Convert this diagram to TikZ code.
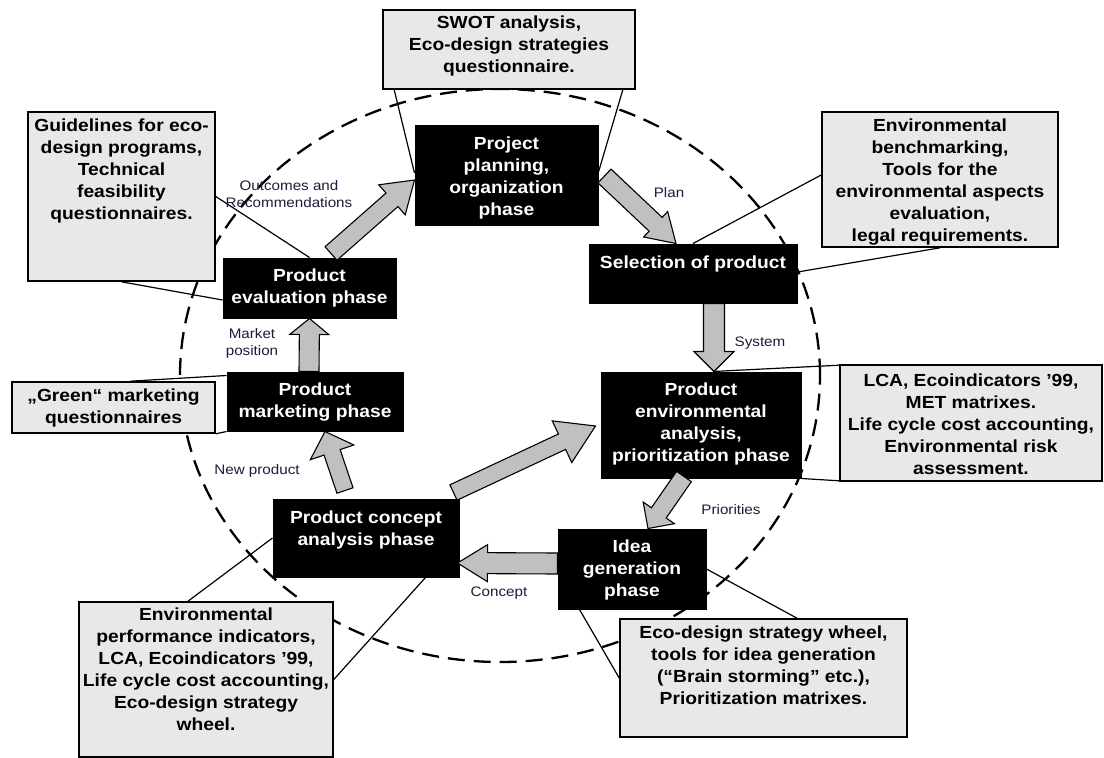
\documentclass[tikz,border=0pt]{standalone}
\usepackage{fontspec}
\setmainfont{Liberation Sans}[FakeStretch=1.1]
\usetikzlibrary{calc}
\definecolor{infofill}{HTML}{E8E8E8}
\definecolor{arrowfill}{HTML}{C0C0C0}
\definecolor{labelcol}{HTML}{1C1C3C}
\pgfdeclarelayer{bg}
\pgfsetlayers{bg,main}
\newcommand\bx[4]{\parbox[c][#2pt][t]{#1pt}{\centering\vspace*{#3pt}\makebox[0pt]{\begin{tabular}[t]{@{}c@{}}#4\end{tabular}}\par}}
\newcommand\barrow[5]{%
  \coordinate (hb) at ($(#2)!#5pt!(#1)$);
  \draw[blockarrow] ($(#1)!#3pt!90:(#2)$) -- ($(hb)!#3pt!90:(#2)$) -- ($(hb)!#4pt!90:(#2)$) -- (#2)
    -- ($(hb)!#4pt!-90:(#2)$) -- ($(hb)!#3pt!-90:(#2)$) -- ($(#1)!#3pt!-90:(#2)$) -- cycle;}
\tikzset{
  phase/.style={draw=black, fill=black, text=white, inner sep=0pt, line width=1pt, font=\bfseries\fontsize{17.5}{22}\selectfont},
  info/.style={draw=black, fill=infofill, inner sep=0pt, line width=1.6pt, font=\bfseries\fontsize{17.5}{22}\selectfont},
  lbl/.style={text=labelcol, inner sep=0pt, align=center, font=\fontsize{13.8}{17}\selectfont},
  link/.style={draw=black, line width=1.2pt},
  blockarrow/.style={draw=black, fill=arrowfill, line width=1.1pt, line join=miter},
  wheel/.style={draw=black, line width=2.3pt, dash pattern=on 17pt off 9pt},
}
\begin{document}
\begin{tikzpicture}[x=1pt,y=-1pt]
\useasboundingbox (0,0) rectangle (1104,758);

% phase boxes
\node[phase] (proj) at (506.5,175) {\bx{183}{100}{9}{Project\\planning,\\organization\\phase}};
\node[phase] (sel) at (693,273.5) {\bx{208}{59}{9}{Selection of product}};
\node[phase] (env) at (701,425) {\bx{200}{106}{8}{Product\\environmental\\analysis,\\prioritization phase}};
\node[phase] (idea) at (632,569) {\bx{148}{80}{8}{Idea\\generation\\phase}};
\node[phase] (concept) at (366,538) {\bx{186}{78}{9}{Product concept\\analysis phase}};
\node[phase] (mkt) at (315,401.5) {\bx{176}{59}{8}{Product\\marketing phase}};
\node[phase] (eval) at (309.5,288) {\bx{173}{60}{8}{Product\\evaluation phase}};

% tool boxes
\node[info] (swot) at (509,49.5) {\bx{252}{79}{3}{SWOT analysis,\\Eco-design strategies\\questionnaire.}};
\node[info] (guide) at (121.5,196.5) {\bx{187}{169}{4}{Guidelines for eco-\\design programs,\\Technical\\feasibility\\questionnaires.}};
\node[info] (bench) at (940,179.5) {\bx{236}{135}{4}{Environmental\\benchmarking,\\Tools for the\\environmental aspects\\evaluation,\\legal requirements.}};
\node[info] (lca) at (971,423) {\bx{262}{116}{6}{LCA, Ecoindicators ’99,\\MET matrixes.\\Life cycle cost accounting,\\Environmental risk\\assessment.}};
\node[info] (green) at (113.5,407.5) {\bx{203}{51}{4}{„Green“ marketing\\questionnaires}};
\node[info] (eco) at (763.5,678) {\bx{287}{118}{4}{Eco-design strategy wheel,\\tools for idea generation\\(“Brain storming” etc.),\\Prioritization matrixes.}};
\node[info] (perf) at (206,679.5) {\bx{254}{155}{3}{Environmental\\performance indicators,\\LCA, Ecoindicators ’99,\\Life cycle cost accounting,\\Eco-design strategy\\wheel.}};

\begin{pgfonlayer}{bg}
\fill[white] (0,0) rectangle (1104,758);
\draw[wheel] (500,375.5) ellipse [x radius=320pt, y radius=286.5pt];
\draw[link] ($(swot.south west)+(12,0)$) -- ($(proj.west)+(0,-2)$);
\draw[link] ($(swot.south east)+(-13,0)$) -- ($(proj.east)+(0,-3)$);
\draw[link] ($(bench.west)+(0,-4.5)$) -- (sel.north);
\draw[link] (bench.south) -- ($(sel.east)+(0,-1.5)$);
\draw[link] ($(env.north)+(12,0)$) -- ($(lca.north west)+(0,1)$);
\draw[link] (env.south east) -- ($(lca.south west)+(0,-1)$);
\draw[link] (guide.south) -- ($(eval.west)+(0,12)$);
\draw[link] (guide.east) -- (eval.north);
\draw[link] ($(green.north)+(16.5,0)$) -- ($(mkt.north west)+(0,4)$);
\draw[link] (green.south east) -- (mkt.south west);
\draw[link] (concept.west) -- ($(perf.north)+(-18,0)$);
\draw[link] ($(concept.south east)+(-34,0)$) -- (perf.east);
\draw[link] (idea.east) -- ($(eco.north)+(33.5,0)$);
\draw[link] ($(idea.south west)+(22,0)$) -- (eco.west);
\end{pgfonlayer}

% block arrows
\coordinate (a1t) at ($(eval.north)+(21.5,-4)$);
\coordinate (a1h) at ($(proj.west)+(0,5)$);
\barrow{a1t}{a1h}{9}{20}{30}
\coordinate (a2t) at ($(proj.east)+(6,1)$);
\coordinate (a2h) at ($(sel.north)+(-17,0)$);
\barrow{a2t}{a2h}{9.5}{17.5}{28}
\coordinate (a3t) at ($(sel.south)+(21,0)$);
\coordinate (a3h) at ($(env.north)+(13,0)$);
\barrow{a3t}{a3h}{10.5}{20}{20}
\coordinate (a4t) at ($(env.south)+(-17,-2)$);
\coordinate (a4h) at ($(idea.north)+(16,0)$);
\barrow{a4t}{a4h}{9}{19}{19}
\coordinate (a5t) at ($(idea.west)+(0,-5.5)$);
\coordinate (a5h) at ($(concept.east)+(-2,25)$);
\barrow{a5t}{a5h}{10.5}{18.5}{30}
\coordinate (a6t) at ($(concept.north east)+(-6,-6)$);
\coordinate (a6h) at ($(env.west)+(-5,1)$);
\barrow{a6t}{a6h}{8.5}{23}{37}
\coordinate (a7t) at ($(concept.north)+(-21,-8)$);
\coordinate (a7h) at ($(mkt.south)+(10,0)$);
\barrow{a7t}{a7h}{8.5}{23}{22}
\coordinate (a8t) at ($(mkt.north)+(-6,0)$);
\coordinate (a8h) at (eval.south);
\barrow{a8t}{a8h}{10}{19.5}{16}

% labels
\node[lbl] (lOut) at (289,194.5) {Outcomes and\\Recommendations};
\node[lbl] (lPlan) at (669,193) {Plan};
\node[lbl] (lSys) at (760,343) {System};
\node[lbl] (lMkt) at (252,343.5) {Market\\position};
\node[lbl] (lNew) at (257,471) {New product};
\node[lbl] (lPri) at (731,510) {Priorities};
\node[lbl] (lCon) at (499,593) {Concept};
\end{tikzpicture}
\end{document}
